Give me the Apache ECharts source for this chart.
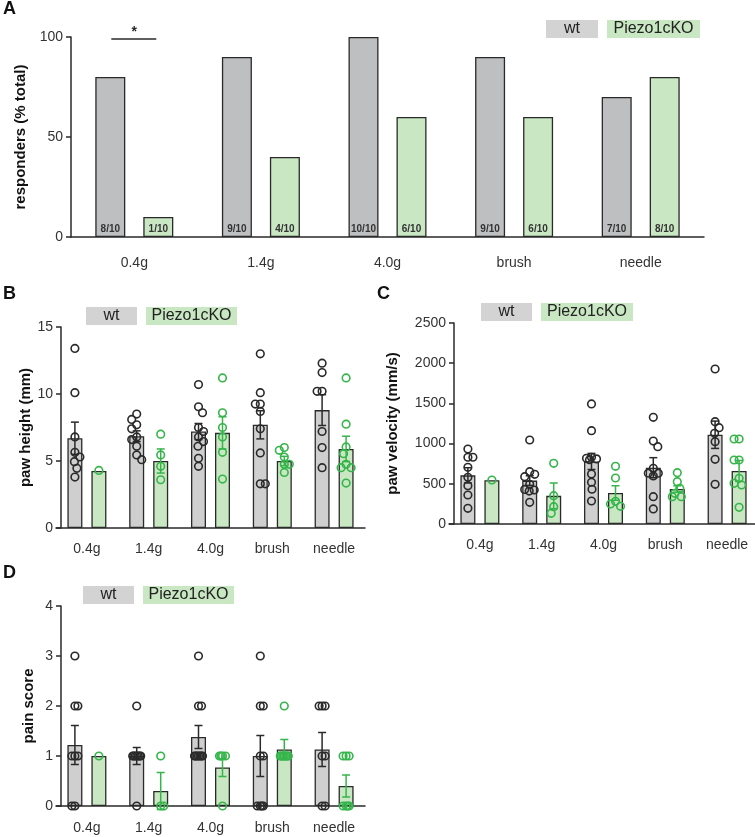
<!DOCTYPE html>
<html>
<head>
<meta charset="utf-8">
<script src="https://cdn.jsdelivr.net/npm/echarts@6/dist/echarts.min.js"></script>
<style>
  html, body { margin: 0; background: #fff; }
  #chart { width: 755px; height: 837px; }
</style>
</head>
<body>
<div id="chart"></div>
<script>
var categories = ['0.4g', '1.4g', '4.0g', 'brush', 'needle'];

// A - responders (% total)
var respWt = [80, 90, 100, 90, 70];
var respKo = [10, 40, 60, 60, 80];
var respWtLabels = ['8/10', '9/10', '10/10', '9/10', '7/10'];
var respKoLabels = ['1/10', '4/10', '6/10', '6/10', '8/10'];
var sigCategory = 0, sigLevel = 99;

// B - paw height (mm)
var heightWtMean = [6.7, 6.85, 7.2, 7.7, 8.8];
var heightWtSem = [1.2, 0.4, 0.6, 1.05, 1.15];
var heightKoMean = [4.25, 5.0, 7.1, 5.0, 5.9];
var heightKoSem = [0, 0.9, 1.2, 0.35, 0.95];
var heightWtPts = [
  [13.4, 10.1, 6.8, 5.65, 5.3, 4.95, 4.45, 3.8],
  [8.5, 8.1, 7.7, 7.4, 6.8, 6.6, 6.1, 5.45, 5.1],
  [10.7, 9.05, 8.6, 7.5, 7.2, 6.8, 6.45, 6.1, 5.2, 4.6],
  [13.0, 10.1, 9.25, 9.25, 8.7, 7.4, 5.6, 3.3, 3.3],
  [12.3, 11.6, 10.2, 10.2, 7.2, 6.0, 4.5]
];
var heightKoPts = [
  [4.3],
  [7.0, 5.45, 4.6, 3.6],
  [11.2, 8.6, 7.5, 6.8, 5.65, 3.65],
  [6.0, 5.8, 5.3, 4.75, 4.75, 4.15],
  [11.2, 7.75, 6.05, 5.55, 4.75, 4.5, 4.5, 3.35]
];

// C - paw velocity (mm/s)
var velWtMean = [605, 540, 778, 700, 1110];
var velWtSem = [95, 60, 100, 125, 170];
var velKoMean = [545, 350, 386, 435, 660];
var velKoSem = [0, 160, 90, 40, 130];
var velWtPts = [
  [933, 830, 830, 705, 581, 477, 361, 195],
  [1045, 651, 618, 589, 494, 430, 423, 410, 270],
  [1493, 1161, 830, 817, 810, 800, 622, 519, 432, 286],
  [1327, 1032, 962, 693, 631, 631, 597, 340, 187],
  [1928, 1273, 1198, 1128, 1024, 805, 494]
];
var velKoPts = [
  [547],
  [755, 352, 216, 133],
  [717, 572, 282, 249, 220],
  [638, 526, 444, 382, 340, 340],
  [1057, 1057, 796, 796, 568, 506, 485, 208]
];

// D - pain score
var painWtMean = [1.22, 1.0, 1.38, 1.0, 1.13];
var painWtSem = [0.39, 0.17, 0.23, 0.41, 0.34];
var painKoMean = [1.0, 0.3, 0.77, 1.13, 0.4];
var painKoSem = [0, 0.37, 0.18, 0.2, 0.22];
var painWtPts = [
  [3, 2, 2, 1, 1, 1, 0, 0],
  [2, 1, 1, 1, 1, 1, 1, 1, 0],
  [3, 2, 2, 1, 1, 1, 1, 1, 1, 1],
  [3, 2, 2, 1, 1, 0, 0, 0, 0],
  [2, 2, 2, 1, 1, 0, 0]
];
var painKoPts = [
  [1],
  [1, 0, 0],
  [1, 1, 1, 1, 0],
  [2, 1, 1, 1, 1, 1, 1, 1],
  [1, 1, 1, 0, 0, 0, 0]
];

var FONT = 'Arial, "Liberation Sans", Helvetica, sans-serif';
var INK = '#2a2a2a';
var GRAY = '#cfcfd0', GRAY_A = '#bebfc1';
var GREEN_FILL = '#c8e7c2';
var GREEN = '#35b54a';

// simple beeswarm: horizontal offsets (px) so circles do not pile up
function swarm(groups, pxPerUnit, minDist, maxOff) {
  var out = [];
  groups.forEach(function (vals) {
    var placed = [];
    vals.forEach(function (v, n) {
      var y = v * pxPerUnit, best = 0, bestD = -1, found = false;
      var sign = n % 2 ? -1 : 1;
      for (var s = 0; s <= maxOff + 0.01 && !found; s += 0.5) {
        var cands = s === 0 ? [0] : [sign * s, -sign * s];
        for (var k = 0; k < cands.length; k++) {
          var d = 1e9;
          placed.forEach(function (p) {
            d = Math.min(d, Math.sqrt((p[0] - cands[k]) * (p[0] - cands[k]) + (p[1] - y) * (p[1] - y)));
          });
          if (d >= minDist) { best = cands[k]; found = true; break; }
          if (d > bestD) { bestD = d; best = cands[k]; }
        }
      }
      placed.push([best, y]);
      out.push(best);
    });
  });
  return out;
}

function flat(groups) {
  var d = [];
  groups.forEach(function (vals, i) {
    vals.forEach(function (v) { d.push([i, v]); });
  });
  return d;
}

function pointSeries(idx, groups, off, color, pxPerUnit, minDist, maxOff) {
  var jit = swarm(groups, pxPerUnit, minDist, maxOff);
  return {
    type: 'custom', xAxisIndex: idx, yAxisIndex: idx, z: 5, clip: false,
    data: flat(groups),
    renderItem: function (params, api) {
      var c = api.coord([api.value(0), api.value(1)]);
      return {
        type: 'circle',
        shape: { cx: c[0] + off + jit[params.dataIndex], cy: c[1], r: 3.8 },
        style: { fill: 'none', stroke: color, lineWidth: 1.6 }
      };
    }
  };
}

function errorSeries(idx, mean, sem, off, color) {
  return {
    type: 'custom', xAxisIndex: idx, yAxisIndex: idx, z: 4,
    data: mean.map(function (m, i) { return [i, m, sem[i]]; }),
    renderItem: function (params, api) {
      var s = api.value(2);
      if (!s) return null;
      var hi = api.coord([api.value(0), api.value(1) + s]);
      var lo = api.coord([api.value(0), api.value(1) - s]);
      var x = hi[0] + off, w = 4;
      var st = { stroke: color, lineWidth: 1.5 };
      return {
        type: 'group', children: [
          { type: 'line', shape: { x1: x, y1: hi[1], x2: x, y2: lo[1] }, style: st },
          { type: 'line', shape: { x1: x - w, y1: hi[1], x2: x + w, y2: hi[1] }, style: st },
          { type: 'line', shape: { x1: x - w, y1: lo[1], x2: x + w, y2: lo[1] }, style: st }
        ]
      };
    }
  };
}

function barSeries(idx, data, fill, width, gap, labels) {
  var s = {
    type: 'bar', xAxisIndex: idx, yAxisIndex: idx, data: data, z: 2,
    barWidth: width, barGap: gap,
    itemStyle: { color: fill, borderColor: INK, borderWidth: 1.3 }
  };
  if (labels) {
    s.label = {
      show: true, position: 'insideBottom', distance: 3,
      formatter: function (p) { return labels[p.dataIndex]; },
      fontFamily: '"Liberation Sans Narrow", "Arial Narrow", ' + FONT,
      fontSize: 10, fontWeight: 'bold', color: '#333'
    };
  }
  return s;
}

function xAxis(idx, margin) {
  return {
    type: 'category', gridIndex: idx, data: categories,
    axisLine: { lineStyle: { color: INK, width: 1.5 } },
    axisTick: { alignWithLabel: true, length: 6, lineStyle: { color: INK, width: 1.5 } },
    axisLabel: { color: '#333', fontSize: 14, fontFamily: FONT, margin: margin }
  };
}

function yAxis(idx, max, interval, name, gap) {
  return {
    type: 'value', gridIndex: idx, min: 0, max: max, interval: interval,
    offset: idx === 0 ? 0 : -5,
    name: name, nameLocation: 'middle', nameGap: gap,
    nameTextStyle: { color: '#111', fontSize: 15, fontWeight: 'bold', fontFamily: FONT },
    axisLine: { show: true, lineStyle: { color: INK, width: 1.5 } },
    axisTick: { show: true, length: 5, lineStyle: { color: INK, width: 1.5 } },
    axisLabel: { color: '#333', fontSize: 14, fontFamily: FONT, margin: 8,
      formatter: function (v) { return String(v); } },
    splitLine: { show: false }
  };
}

function legendBoxes(x, y, h, wWt, gap, wKo) {
  var ts = { fontSize: 16, fontFamily: FONT, fill: '#222', align: 'center', verticalAlign: 'middle' };
  return [
    { type: 'rect', left: x, top: y, shape: { width: wWt, height: h }, style: { fill: '#d3d3d3' } },
    { type: 'text', x: x + wWt / 2, y: y + h / 2, style: Object.assign({ text: 'wt' }, ts) },
    { type: 'rect', left: x + wWt + gap, top: y, shape: { width: wKo, height: h }, style: { fill: GREEN_FILL } },
    { type: 'text', x: x + wWt + gap + wKo / 2, y: y + h / 2, style: Object.assign({ text: 'Piezo1cKO' }, ts) }
  ];
}

function letter(t, x, y) {
  return { type: 'text', x: x, y: y, style: { text: t, fontSize: 18, fontWeight: 'bold', fontFamily: FONT, fill: '#111', verticalAlign: 'middle' } };
}

var chart = echarts.init(document.getElementById('chart'), null, { renderer: 'canvas' });

var grids = [
  { left: 71, top: 37, width: 633, height: 200 },
  { left: 56, top: 327, width: 309, height: 201 },
  { left: 449, top: 323, width: 309, height: 201 },
  { left: 56, top: 606, width: 309, height: 200 }
];
grids.forEach(function (g) { g.containLabel = false; g.outerBoundsMode = 'none'; });

var sigSeries = {
  type: 'custom', xAxisIndex: 0, yAxisIndex: 0, z: 5, clip: false,
  data: [[sigCategory, sigLevel]],
  renderItem: function (params, api) {
    var c = api.coord([api.value(0), api.value(1)]);
    return {
      type: 'group', children: [
        { type: 'line', shape: { x1: c[0] - 23, y1: c[1], x2: c[0] + 22, y2: c[1] }, style: { stroke: INK, lineWidth: 1.5 } },
        { type: 'text', x: c[0], y: c[1] - 7, style: { text: '*', fontSize: 14, fontWeight: 'bold', fontFamily: FONT, fill: INK, align: 'center', verticalAlign: 'middle' } }
      ]
    };
  }
};

var option = {
  animation: false,
  backgroundColor: '#fff',
  grid: grids,
  xAxis: [xAxis(0, 19), xAxis(1, 14), xAxis(2, 14), xAxis(3, 15)],
  yAxis: [
    yAxis(0, 100, 50, 'responders (% total)', 33),
    yAxis(1, 15, 5, 'paw height (mm)', 24),
    yAxis(2, 2500, 500, 'paw velocity (mm/s)', 54),
    yAxis(3, 4, 1, 'pain score', 25)
  ],
  series: [
    barSeries(0, respWt, GRAY_A, 30, '60%', respWtLabels),
    barSeries(0, respKo, GREEN_FILL, 30, '60%', respKoLabels),
    sigSeries,

    barSeries(1, heightWtMean, GRAY, 15, '60%'),
    barSeries(1, heightKoMean, GREEN_FILL, 15, '60%'),
    errorSeries(1, heightWtMean, heightWtSem, -12, INK),
    errorSeries(1, heightKoMean, heightKoSem, 12, GREEN),
    pointSeries(1, heightWtPts, -12, INK, 201 / 15, 7, 5),
    pointSeries(1, heightKoPts, 12, GREEN, 201 / 15, 7, 5),

    barSeries(2, velWtMean, GRAY, 15, '60%'),
    barSeries(2, velKoMean, GREEN_FILL, 15, '60%'),
    errorSeries(2, velWtMean, velWtSem, -12, INK),
    errorSeries(2, velKoMean, velKoSem, 12, GREEN),
    pointSeries(2, velWtPts, -12, INK, 201 / 2500, 7, 5),
    pointSeries(2, velKoPts, 12, GREEN, 201 / 2500, 7, 5),

    barSeries(3, painWtMean, GRAY, 15, '60%'),
    barSeries(3, painKoMean, GREEN_FILL, 15, '60%'),
    errorSeries(3, painWtMean, painWtSem, -12, INK),
    errorSeries(3, painKoMean, painKoSem, 12, GREEN),
    pointSeries(3, painWtPts, -12, INK, 200 / 4, 3, 4),
    pointSeries(3, painKoPts, 12, GREEN, 200 / 4, 3, 4)
  ],
  graphic: [
    letter('A', 3, 9), letter('B', 3, 294), letter('C', 377, 294), letter('D', 3, 573)
  ]
    .concat(legendBoxes(546, 20, 18, 52, 9, 93))
    .concat(legendBoxes(86, 307, 18, 51, 9, 91))
    .concat(legendBoxes(481, 303, 18, 51, 9, 92))
    .concat(legendBoxes(83, 586, 18, 51, 9, 91))
};

chart.setOption(option);
</script>
</body>
</html>
